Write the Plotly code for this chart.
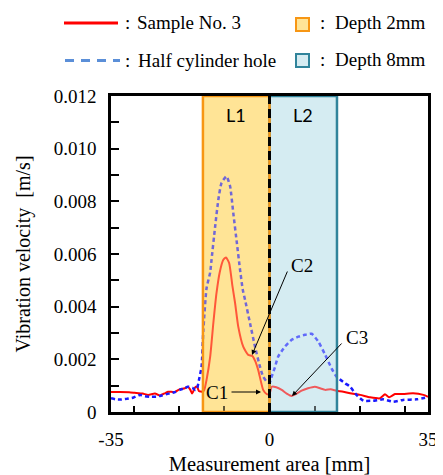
import plotly.graph_objects as go

# ---------------- data ----------------
red_x = [-35, -33, -31, -29.8, -28, -26.8, -25.3, -24.2, -23, -22.4, -20.9, -19.8, -18.7, -18.0,
         -17.5, -17.1, -16.4, -16.0, -15.6, -14.7, -14.4, -13.9, -13.1, -12.4, -11.7, -11.0,
         -10.2, -9.6, -8.9, -8.2, -7.6, -6.9, -5.8, -4.7, -3.8, -3.2, -2.5, -1.4, -0.6, 0.0,
         0.5, 1.5, 2.7, 3.8, 4.9, 6.0, 7.1, 8.5, 10.0, 11.2, 12.3, 13.5, 14.8, 16.3, 17.8,
         20.0, 22.2, 24.4, 25.5, 26.4, 27.7, 29.5, 31.7, 34.0, 35.0]
red_y = [0.00076, 0.00076, 0.00075, 0.00073, 0.00070, 0.00065, 0.00070, 0.00063, 0.00072, 0.00077,
         0.00076, 0.00087, 0.00090, 0.00096, 0.00085, 0.00070, 0.00094, 0.00096, 0.00080, 0.00077,
         0.00084, 0.00122, 0.00210, 0.00338, 0.00452, 0.00530, 0.00578, 0.00587, 0.00565, 0.00480,
         0.00414, 0.00324, 0.00248, 0.00217, 0.00213, 0.00195, 0.00160, 0.00084, 0.00068, 0.00068,
         0.00096, 0.00094, 0.00084, 0.00070, 0.00061, 0.00070, 0.00081, 0.00090, 0.00096, 0.00090,
         0.00084, 0.00086, 0.00081, 0.00077, 0.00071, 0.00065, 0.00056, 0.00052, 0.00067, 0.00056,
         0.00068, 0.00068, 0.00071, 0.00065, 0.00058]

blue_x = [-35, -34, -33, -31.5, -30, -28.6, -27.5, -26.4, -25, -24.2, -22, -21, -19.8, -18.8,
          -18, -17, -16.4, -16.0, -15.6, -15.0, -14.6, -13.9, -13.1, -12.8, -12.0, -11.3, -10.6,
          -9.5, -8.7, -8.0, -7.2, -6.5, -5.9, -5.4, -4.3, -3.2, -2.1, -1.4, -0.6, 0.0, 0.5, 1.2,
          1.9, 3.4, 4.9, 6.4, 7.8, 9.3, 10.8, 12.3, 13.7, 14.8, 16.7, 17.8, 19.2, 20.7, 22.9,
          25.1, 27.3, 29.5, 32.5, 35]
blue_y = [0.00052, 0.00048, 0.00047, 0.00050, 0.00055, 0.00065, 0.00060, 0.00058, 0.00058, 0.00061,
          0.00071, 0.00075, 0.00084, 0.00090, 0.00096, 0.00092, 0.00084, 0.00088, 0.00120, 0.00172,
          0.00312, 0.00470, 0.00530, 0.00578, 0.00705, 0.00806, 0.00870, 0.00895, 0.00857, 0.00756,
          0.00641, 0.00540, 0.00464, 0.00426, 0.00337, 0.00248, 0.00172, 0.00134, 0.00115, 0.00110,
          0.00135, 0.00170, 0.00210, 0.00248, 0.00274, 0.00286, 0.00293, 0.00297, 0.00267, 0.00217,
          0.00166, 0.00134, 0.00109, 0.00096, 0.00065, 0.00043, 0.00043, 0.00048, 0.00039, 0.00046,
          0.00048, 0.00056]

region_names = ["L1", "L2"]
region_x0 = [-14.7, 0.0]
region_x1 = [0.0, 14.9]

x_tickvals = [-35, 0, 35]
x_ticktext = ["-35", "0", "35"]
x_minor = [-30, -20, -10, 10, 20, 30]
y_tickvals = [0, 0.002, 0.004, 0.006, 0.008, 0.010, 0.012]
y_ticktext = ["0", "0.002", "0.004", "0.006", "0.008", "0.010", "0.012"]
y_minor = [0.001, 0.003, 0.005, 0.007, 0.009, 0.011]

# ---------------- layout geometry (page pixels; page body has an 8px margin) ----------------
OFF = 8
PAGE_W, PAGE_H = 443, 475
W, H = PAGE_W - OFF, PAGE_H - OFF
PL, PR, PT, PB = 111, 428, 96, 412          # plot area in page pixels
L, T = PL - OFF, PT - OFF
R, B = PAGE_W - PR, PAGE_H - PB
PW, PH = PR - PL, PB - PT


def pxx(p):
    return (p - PL) / PW


def pxy(p):
    return (PB - p) / PH


SERIF = "Liberation Serif, Times New Roman, serif"
SANS = "Lato, Noto Sans, sans-serif"

fill_cols = ["rgb(255,228,150)", "rgb(214,236,242)"]
line_cols = ["rgb(247,150,20)", "rgb(49,132,155)"]

fig = go.Figure()
fig.add_trace(go.Scatter(x=red_x, y=red_y, mode="lines",
                         line=dict(color="#FF0000", width=2, shape="spline", smoothing=0.5),
                         showlegend=False))
fig.add_trace(go.Scatter(x=blue_x, y=blue_y, mode="lines",
                         line=dict(color="#1A1AFF", width=2.5, dash="4px,3px", shape="spline", smoothing=0.5),
                         showlegend=False))

shapes = []
for i in [1, 0]:
    shapes.append(dict(type="rect", xref="x", yref="y", x0=region_x0[i], x1=region_x1[i], y0=0, y1=0.012,
                       fillcolor=fill_cols[i], line=dict(width=0), layer="below"))
for i in [1, 0]:
    shapes.append(dict(type="rect", xref="x", yref="y", x0=region_x0[i], x1=region_x1[i], y0=0, y1=0.012,
                       fillcolor=fill_cols[i], opacity=0.38, line=dict(width=0), layer="above"))
for i in [1, 0]:
    shapes.append(dict(type="rect", xref="x", yref="y", x0=region_x0[i], x1=region_x1[i], y0=0, y1=0.012,
                       fillcolor="rgba(0,0,0,0)", line=dict(color=line_cols[i], width=2.5), layer="above"))
shapes.append(dict(type="line", xref="x", yref="y", x0=0, x1=0, y0=0, y1=0.012,
                   line=dict(color="black", width=3, dash="9px,5px"), layer="above"))

# legend graphics
shapes.append(dict(type="line", xref="paper", yref="paper", x0=pxx(64), x1=pxx(118), y0=pxy(23), y1=pxy(23),
                   line=dict(color="#FF0000", width=3)))
shapes.append(dict(type="line", xref="paper", yref="paper", x0=pxx(65), x1=pxx(120), y0=pxy(60.5), y1=pxy(60.5),
                   line=dict(color="#5B8FD8", width=3, dash="9px,7px")))
shapes.append(dict(type="rect", xref="paper", yref="paper", x0=pxx(296), x1=pxx(309), y0=pxy(31), y1=pxy(18),
                   fillcolor=fill_cols[0], line=dict(color=line_cols[0], width=2)))
shapes.append(dict(type="rect", xref="paper", yref="paper", x0=pxx(296), x1=pxx(309), y0=pxy(67), y1=pxy(54),
                   fillcolor=fill_cols[1], line=dict(color=line_cols[1], width=2)))

annotations = []
for i in range(2):
    annotations.append(dict(x=(region_x0[i] + region_x1[i]) / 2, y=0.01128, xref="x", yref="y",
                            text=region_names[i], showarrow=False,
                            font=dict(family=SANS, size=18, color="black")))

legend_texts = [(123, 22, ":"), (135, 22, "Sample No. 3"), (123, 60, ":"), (136, 60, "Half cylinder hole"),
                (318, 22, ":"), (333, 22, "Depth 2mm"), (318, 59, ":"), (333, 59, "Depth 8mm")]
for (px, py, t) in legend_texts:
    annotations.append(dict(x=pxx(px), y=pxy(py), xref="paper", yref="paper", text=t, showarrow=False,
                            xanchor="left", yanchor="middle", font=dict(family=SERIF, size=19, color="black")))


def dx(p):
    return (p - (PL + PW / 2)) / PW * 70


def dy(p):
    return (PB - p) / PH * 0.012


c_labels = [("C1", 217, 392), ("C2", 302, 265), ("C3", 357, 337)]
for (t, px, py) in c_labels:
    annotations.append(dict(x=dx(px), y=dy(py), xref="x", yref="y", text=t, showarrow=False,
                            font=dict(family=SERIF, size=19, color="black")))
arrows = [((230, 392), (261, 392)), ((288, 270), (252, 355)), ((343, 342), (292, 396))]
for (tail, head) in arrows:
    annotations.append(dict(x=dx(head[0]), y=dy(head[1]), ax=dx(tail[0]), ay=dy(tail[1]),
                            xref="x", yref="y", axref="x", ayref="y", text="", showarrow=True,
                            arrowhead=2, arrowsize=1, arrowwidth=1, arrowcolor="black", standoff=0))

fig.update_layout(
    width=W, height=H, margin=dict(l=L, r=R, t=T, b=B, autoexpand=False),
    paper_bgcolor="white", plot_bgcolor="white",
    shapes=shapes, annotations=annotations,
    font=dict(family=SERIF, size=18, color="black"),
)
fig.update_xaxes(range=[-35, 35], tickmode="array", tickvals=x_tickvals, ticktext=x_ticktext,
                 ticks="", showgrid=False, zeroline=False, showline=True, linecolor="black", linewidth=2.5,
                 mirror=True, ticklabelstandoff=8, automargin=False,
                 minor=dict(tickmode="array", tickvals=x_minor, ticks="inside", ticklen=6, tickcolor="black",
                            tickwidth=1.5, showgrid=False),
                 title=dict(text="Measurement area [mm]", font=dict(family=SERIF, size=20.5), standoff=12),
                 tickfont=dict(family=SERIF, size=19))
fig.update_yaxes(range=[0, 0.012], tickmode="array", tickvals=y_tickvals, ticktext=y_ticktext,
                 ticks="inside", ticklen=8, tickwidth=1.5, tickcolor="black",
                 showgrid=False, zeroline=False, showline=True, linecolor="black", linewidth=2.5,
                 mirror=True, ticklabelstandoff=8, automargin=False,
                 minor=dict(tickmode="array", tickvals=y_minor, ticks="inside", ticklen=8, tickcolor="black",
                            tickwidth=1.5, showgrid=False),
                 title=dict(text="Vibration velocity  [m/s]", font=dict(family=SERIF, size=20), standoff=18),
                 tickfont=dict(family=SERIF, size=19))

fig.write_html("out.html")
